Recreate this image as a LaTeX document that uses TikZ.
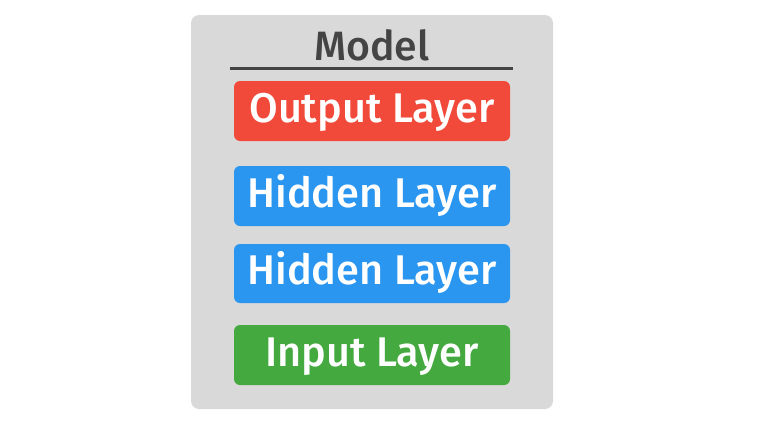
\documentclass[tikz,border=0pt]{standalone}
\usepackage{fontspec}
\setmainfont{Fira Sans Medium}
\usetikzlibrary{positioning}

\definecolor{panelgray}{HTML}{D9D9D9}
\definecolor{titlegray}{HTML}{444444}
\definecolor{outred}{HTML}{F24A3A}
\definecolor{hidblue}{HTML}{2A96F0}
\definecolor{ingreen}{HTML}{44A93E}

\tikzset{
  layer/.style={rounded corners=6pt, minimum width=276pt, minimum height=60pt,
    inner sep=0pt, text=white, font=\fontsize{41.5}{43}\selectfont,
    text height=31pt, text depth=9pt},
}

\begin{document}
\begin{tikzpicture}[x=1pt,y=-1pt]
\useasboundingbox (0,0) rectangle (770,439);
\fill[panelgray, rounded corners=8pt] (191,15) rectangle (553,409);
\node[font=\fontsize{41}{43}\selectfont, text=titlegray, anchor=base] (title) at (372,60) {Model};
\coordinate (rulel) at (230,68);
\coordinate (ruler) at (513,68);
\draw[titlegray, line width=3pt] (rulel) -- (ruler);
\node[layer, fill=outred] (output) at (372,111) {Output Layer};
\node[layer, fill=hidblue] (hiddentop) at (372,196) {Hidden Layer};
\node[layer, fill=hidblue, minimum height=59pt] (hiddenbot) at (372,273.5) {Hidden Layer};
\node[layer, fill=ingreen] (input) at (372,355) {Input Layer};
\end{tikzpicture}
\end{document}
